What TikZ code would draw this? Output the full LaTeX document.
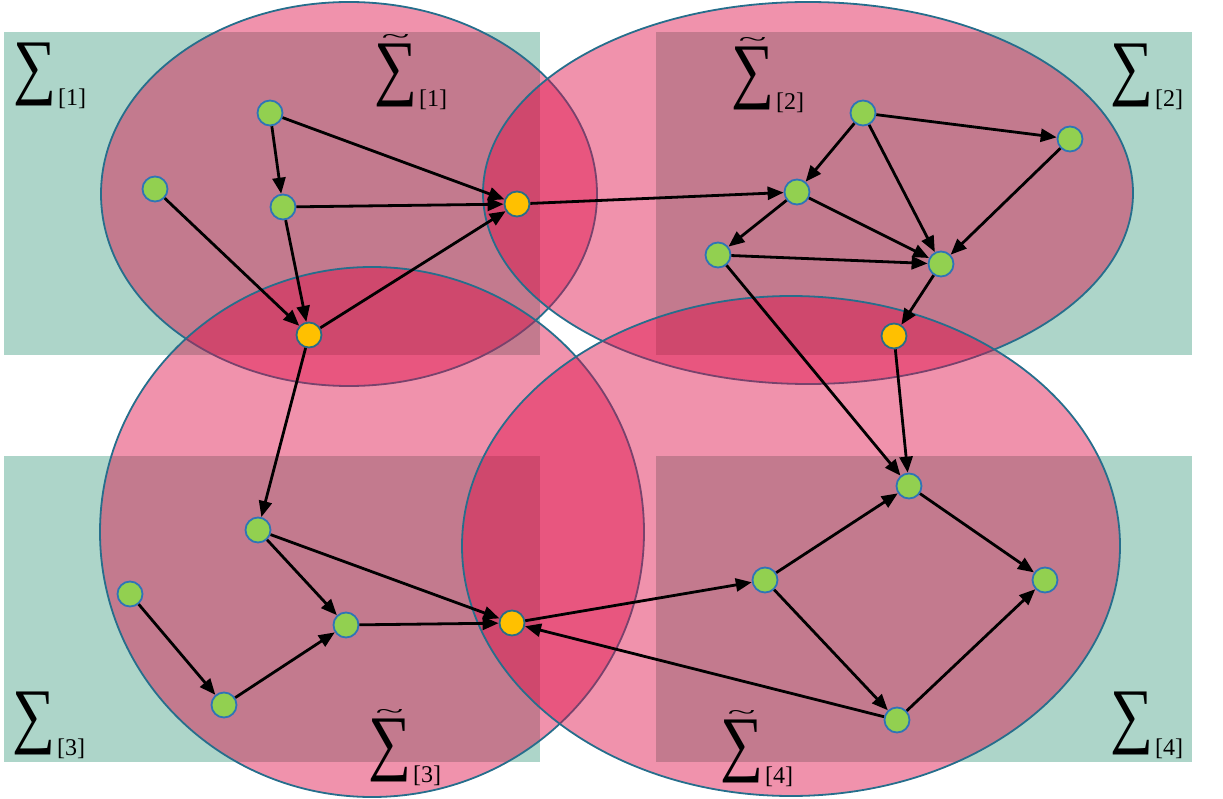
\documentclass[tikz,border=0pt]{standalone}
\usepackage{fontspec}
\setmainfont{Liberation Serif}
\usepackage{graphicx}
\usetikzlibrary{arrows.meta}
\definecolor{rectteal}{RGB}{173,213,201}
\definecolor{ellfill}{RGB}{222,13,71}
\definecolor{elldraw}{RGB}{38,110,140}
\definecolor{nodegreen}{RGB}{146,208,80}
\definecolor{nodeblue}{RGB}{46,117,182}
\definecolor{nodeorange}{RGB}{255,192,0}
\definecolor{orangeedge}{RGB}{40,110,135}
\newcommand{\MySig}{\raisebox{\depth}{\resizebox*{43pt}{63pt}{\char"2211}}}
\newcommand{\MyLab}[1]{\MySig\hspace{2pt}{\fontsize{24}{24}\selectfont[#1]}}
\newcommand{\MyTLab}[1]{\begin{tabular}[b]{@{}c@{}}\resizebox{28pt}{9pt}{\textasciitilde}\\[-3pt]\MySig\end{tabular}\hspace{2pt}{\fontsize{24}{24}\selectfont[#1]}}
\tikzset{
  region/.style={fill=rectteal, draw=none},
  cloud/.style={fill=ellfill, fill opacity=0.45, draw=elldraw, line width=1.8pt},
  gnode/.style={circle, fill=nodegreen, draw=nodeblue, line width=1.8pt, minimum size=25pt, inner sep=0pt},
  onode/.style={circle, fill=nodeorange, draw=orangeedge, line width=1.8pt, minimum size=25pt, inner sep=0pt},
  edge/.style={draw=black, line width=2.8pt, -{Triangle[length=16pt,width=13pt]}},
  lab/.style={anchor=base west, inner sep=0pt, text=black}
}
\begin{document}
\begin{tikzpicture}[x=1pt,y=-1pt]
\useasboundingbox (0,0) rectangle (1223,799);
% regions
\path[region] (4,32) rectangle (540,355);
\path[region] (656,32) rectangle (1192,355);
\path[region] (4,456) rectangle (540,762);
\path[region] (656,456) rectangle (1192,762);
% overlapping clouds
\path[cloud] (349,194) ellipse [x radius=248, y radius=192];
\path[cloud] (808,193) ellipse [x radius=325, y radius=191];
\path[cloud] (372,532) ellipse [x radius=272, y radius=265];
\path[cloud] (791,546) ellipse [x radius=329, y radius=250];
% labels
\node[lab] (L1) at (13,106) {\MyLab{1}};
\node[lab] (L2) at (1110,107) {\MyLab{2}};
\node[lab] (L3) at (12,755) {\MyLab{3}};
\node[lab] (L4) at (1110,755) {\MyLab{4}};
\node[lab] (T1) at (374,107) {\MyTLab{1}};
\node[lab] (T2) at (731,110) {\MyTLab{2}};
\node[lab] (T3) at (368,782) {\MyTLab{3}};
\node[lab] (T4) at (720,783) {\MyTLab{4}};
% nodes region 1
\node[gnode] (a1) at (270,113) {};
\node[gnode] (a2) at (155,189) {};
\node[gnode] (a3) at (283,207) {};
\node[onode] (o1) at (517,204) {};
\node[onode] (o2) at (309,335) {};
% region 2
\node[gnode] (b1) at (863,113) {};
\node[gnode] (b2) at (1070,139) {};
\node[gnode] (b3) at (797,192) {};
\node[gnode] (b4) at (718,255) {};
\node[gnode] (b5) at (941,264) {};
\node[onode] (o3) at (894,336) {};
% region 3
\node[gnode] (c1) at (258,530) {};
\node[gnode] (c2) at (130,594) {};
\node[gnode] (c3) at (346,625) {};
\node[gnode] (c4) at (224,705) {};
\node[onode] (o4) at (512,623) {};
% region 4
\node[gnode] (d1) at (909,486) {};
\node[gnode] (d2) at (765,580) {};
\node[gnode] (d3) at (1045,580) {};
\node[gnode] (d4) at (897,720) {};
% edges
\draw[edge] (a1) -- (o1);
\draw[edge] (a1) -- (a3);
\draw[edge] (a3) -- (o1);
\draw[edge] (a3) -- (o2);
\draw[edge] (a2) -- (o2);
\draw[edge] (o2) -- (o1);
\draw[edge] (o1) -- (b3);
\draw[edge] (b1) -- (b3);
\draw[edge] (b1) -- (b2);
\draw[edge] (b1) -- (b5);
\draw[edge] (b2) -- (b5);
\draw[edge] (b3) -- (b4);
\draw[edge] (b3) -- (b5);
\draw[edge] (b4) -- (b5);
\draw[edge] (b4) -- (d1);
\draw[edge] (b5) -- (o3);
\draw[edge] (o3) -- (d1);
\draw[edge] (o2) -- (c1);
\draw[edge] (c1) -- (c3);
\draw[edge] (c1) -- (o4);
\draw[edge] (c2) -- (c4);
\draw[edge] (c4) -- (c3);
\draw[edge] (c3) -- (o4);
\draw[edge] (o4) -- (d2);
\draw[edge] (d2) -- (d1);
\draw[edge] (d1) -- (d3);
\draw[edge] (d2) -- (d4);
\draw[edge] (d4) -- (d3);
\draw[edge] (d4) -- (o4);
\end{tikzpicture}
\end{document}
